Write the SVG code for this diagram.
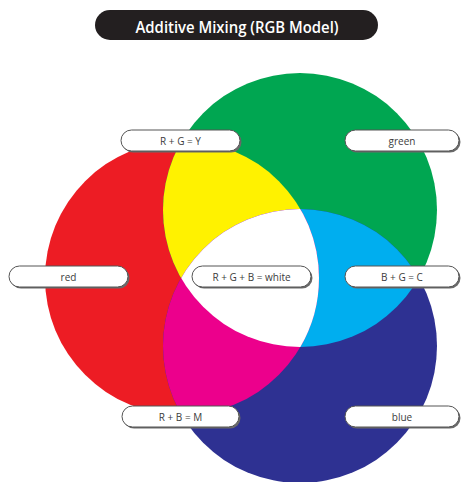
<svg xmlns="http://www.w3.org/2000/svg" width="462" height="482" viewBox="0 0 462 482">
<style>
.pill-shadow{fill:#6a6a6a}
.pill{fill:#ffffff;stroke:#555555;stroke-width:1}
.lbl{font-family:"Open Sans","DejaVu Sans",sans-serif;font-size:10px;fill:#3c3c3c;text-anchor:middle}
.title{font-family:"Open Sans","DejaVu Sans",sans-serif;font-size:16px;font-weight:600;fill:#ffffff;text-anchor:middle}
</style>
<defs>
<clipPath id="cRed"><circle cx="182" cy="278" r="137"/></clipPath>
<clipPath id="cGreen"><circle cx="300" cy="210" r="137"/></clipPath>
<clipPath id="cBlue"><circle cx="300" cy="346" r="137"/></clipPath>
<clipPath id="cRG" clip-path="url(#cRed)"><circle cx="300" cy="210" r="137"/></clipPath>
</defs>
<rect width="462" height="482" fill="#ffffff"/>
<g id="circles">
<circle id="red-circle" cx="182" cy="278" r="137" fill="#ED1C24"/>
<circle id="green-circle" cx="300" cy="210" r="137" fill="#00A651"/>
<circle id="blue-circle" cx="300" cy="346" r="137" fill="#2E3192"/>
<circle id="yellow" cx="300" cy="210" r="137" fill="#FFF200" clip-path="url(#cRed)"/>
<circle id="cyan" cx="300" cy="210" r="137" fill="#00AEEF" clip-path="url(#cBlue)"/>
<circle id="magenta" cx="182" cy="278" r="137" fill="#EC008C" clip-path="url(#cBlue)"/>
<g clip-path="url(#cRG)"><circle id="white" cx="300" cy="346" r="137" fill="#ffffff"/></g>
</g>
<g id="title">
<rect x="95" y="10" width="283" height="30" rx="15" fill="#231F20"/>
<text class="title" x="237" y="33" textLength="203" lengthAdjust="spacingAndGlyphs">Additive Mixing (RGB Model)</text>
</g>
<g id="label-rgy">
<rect class="pill-shadow" x="122.5" y="131.5" width="119" height="21" rx="10.5"/>
<rect class="pill" x="121" y="130" width="119" height="21" rx="10.5"/>
<text class="lbl" x="180.5" y="144.5">R + G = Y</text>
</g>
<g id="label-green">
<rect class="pill-shadow" x="346.5" y="131.5" width="114" height="21" rx="10.5"/>
<rect class="pill" x="345" y="130" width="114" height="21" rx="10.5"/>
<text class="lbl" x="402" y="144.5">green</text>
</g>
<g id="label-red">
<rect class="pill-shadow" x="10.5" y="267.5" width="119" height="21" rx="10.5"/>
<rect class="pill" x="9" y="266" width="119" height="21" rx="10.5"/>
<text class="lbl" x="68.5" y="280.5">red</text>
</g>
<g id="label-white">
<rect class="pill-shadow" x="193.5" y="267.5" width="119" height="21" rx="10.5"/>
<rect class="pill" x="192" y="266" width="119" height="21" rx="10.5"/>
<text class="lbl" x="251.5" y="280.5">R + G + B = white</text>
</g>
<g id="label-bgc">
<rect class="pill-shadow" x="346.5" y="267.5" width="114" height="21" rx="10.5"/>
<rect class="pill" x="345" y="266" width="114" height="21" rx="10.5"/>
<text class="lbl" x="402" y="280.5">B + G = C</text>
</g>
<g id="label-rbm">
<rect class="pill-shadow" x="123.5" y="407.5" width="117" height="21" rx="10.5"/>
<rect class="pill" x="122" y="406" width="117" height="21" rx="10.5"/>
<text class="lbl" x="180.5" y="420.5">R + B = M</text>
</g>
<g id="label-blue">
<rect class="pill-shadow" x="346.5" y="407.5" width="114" height="21" rx="10.5"/>
<rect class="pill" x="345" y="406" width="114" height="21" rx="10.5"/>
<text class="lbl" x="402" y="420.5">blue</text>
</g>
<g id="connectors"></g>
</svg>
